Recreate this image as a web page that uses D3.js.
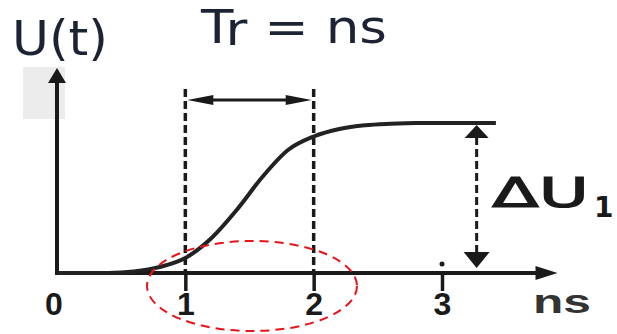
<!DOCTYPE html>
<html>
<head>
<meta charset="utf-8">
<script src="https://cdn.jsdelivr.net/npm/d3@7"></script>
<style>
  body { margin: 0; background: #fff; }
  svg { display: block; }
</style>
</head>
<body>
<svg width="617" height="334"></svg>
<script>
// rise curve, time in ns, U normalised to the plateau
const tValues = [0, 0.4, 0.6, 0.8, 1.0, 1.2, 1.4, 1.6, 1.8, 2.0, 2.2, 2.4, 2.6, 2.8, 3.0, 3.42];
const uValues = [0, 0, 0.01, 0.04, 0.10, 0.23, 0.42, 0.64, 0.82, 0.91, 0.96, 0.985, 0.995, 1, 1, 1];
const tickValues = [0, 1, 2, 3];
const riseMarks = [1, 2];      // dashed verticals for Tr
const deltaAt = 3.27;          // where the ΔU1 arrow sits
const axisEnd = 3.9;

(function () {
  'use strict';
  const svg = d3.select("svg");
  const ink = "#1a1a1a";

  const x = d3.scaleLinear().domain([0, 3]).range([57, 442]);
  const y = d3.scaleLinear().domain([0, 1]).range([273, 123]);

  // faint grey patch behind the top of the y axis
  svg.append("rect").attr("x", 23).attr("y", 67).attr("width", 42).attr("height", 52)
    .attr("fill", "#ececec");

  // axes
  svg.append("line").attr("x1", x(0)).attr("x2", x(axisEnd) - 10)
    .attr("y1", y(0)).attr("y2", y(0)).attr("stroke", ink).attr("stroke-width", 4);
  svg.append("line").attr("x1", x(0)).attr("x2", x(0))
    .attr("y1", y(0) + 2).attr("y2", 78).attr("stroke", ink).attr("stroke-width", 4);
  svg.append("path").attr("fill", ink)
    .attr("d", `M${x(axisEnd)},${y(0)} L${x(axisEnd) - 22},${y(0) - 7} L${x(axisEnd) - 22},${y(0) + 7}Z`);
  svg.append("path").attr("fill", ink)
    .attr("d", `M${x(0)},68 L${x(0) - 9},83 L${x(0) + 9},83Z`);

  // ticks + labels
  const ax = svg.append("g").attr("transform", `translate(0,${y(0)})`)
    .call(d3.axisBottom(x).tickValues(tickValues).tickSize(18).tickPadding(1).tickFormat(d3.format("d")));
  ax.select(".domain").remove();
  ax.selectAll(".tick line").attr("stroke", ink).attr("stroke-width", 3.5)
    .attr("opacity", d => d === 0 ? 0 : 1);
  ax.selectAll(".tick text").attr("fill", ink)
    .style("font-family", "'Liberation Sans', Arial, sans-serif")
    .style("font-weight", "bold").style("font-size", "32px");
  ax.selectAll(".tick").filter(d => d === 0).attr("transform", `translate(${x(0) - 3},0)`);

  svg.append("circle").attr("cx", x(3)).attr("cy", y(0) - 9).attr("r", 2.5).attr("fill", ink);

  svg.append("text").attr("x", 533).attr("y", 313).text("ns")
    .attr("textLength", 58).attr("lengthAdjust", "spacingAndGlyphs")
    .attr("fill", "#333").style("font-family", "'Liberation Sans', Arial, sans-serif")
    .style("font-weight", "bold").style("font-size", "34px");

  // dashed Tr markers
  svg.selectAll(".rise").data(riseMarks).enter().append("line")
    .attr("x1", d => x(d)).attr("x2", d => x(d))
    .attr("y1", 89).attr("y2", y(0))
    .attr("stroke", ink).attr("stroke-width", 3.5).attr("stroke-dasharray", "8,4");

  // Tr double arrow
  const ay = 100, l = x(riseMarks[0]) + 2, r = x(riseMarks[1]) - 2;
  svg.append("line").attr("x1", l + 10).attr("x2", r - 10).attr("y1", ay).attr("y2", ay)
    .attr("stroke", ink).attr("stroke-width", 3);
  svg.append("path").attr("fill", ink)
    .attr("d", `M${l},${ay} L${l + 26},${ay - 5} L${l + 26},${ay + 5}Z`);
  svg.append("path").attr("fill", ink)
    .attr("d", `M${r},${ay} L${r - 26},${ay - 5} L${r - 26},${ay + 5}Z`);

  // rise curve
  const line = d3.line().x(d => x(d[0])).y(d => y(d[1])).curve(d3.curveMonotoneX);
  svg.append("path").datum(d3.zip(tValues, uValues)).attr("d", line)
    .attr("fill", "none").attr("stroke", "#222").attr("stroke-width", 4);

  // ΔU1 arrow
  const dx = x(deltaAt);
  svg.append("line").attr("x1", dx).attr("x2", dx).attr("y1", y(1) + 14).attr("y2", y(0) - 18)
    .attr("stroke", ink).attr("stroke-width", 3).attr("stroke-dasharray", "8,4");
  svg.append("path").attr("fill", ink)
    .attr("d", `M${dx},${y(1) + 2} L${dx - 12},${y(1) + 15} L${dx + 12},${y(1) + 15}Z`);
  svg.append("path").attr("fill", ink)
    .attr("d", `M${dx},${y(0) - 5} L${dx - 13},${y(0) - 21} L${dx + 13},${y(0) - 21}Z`);

  svg.append("text").attr("x", 492).attr("y", 207).text("ΔU")
    .attr("textLength", 97).attr("lengthAdjust", "spacingAndGlyphs")
    .attr("fill", ink).style("font-family", "'DejaVu Sans', sans-serif")
    .style("font-size", "41px")
    .attr("stroke", ink).attr("stroke-width", 1.2);
  svg.append("text").attr("x", 594).attr("y", 217).text("1")
    .attr("fill", ink).style("font-family", "'DejaVu Sans', sans-serif")
    .style("font-weight", "bold").style("font-size", "28px");

  // titles
  svg.append("text").attr("x", 12).attr("y", 55).text("U(t)")
    .attr("textLength", 96).attr("lengthAdjust", "spacingAndGlyphs")
    .attr("fill", "#1c2333").style("font-family", "'DejaVu Sans', sans-serif").style("font-size", "48px");

  const title = svg.append("text").attr("x", 201).attr("y", 43)
    .attr("textLength", 186).attr("lengthAdjust", "spacingAndGlyphs")
    .attr("fill", "#1c2333").style("font-family", "'DejaVu Sans', sans-serif").style("font-size", "46px");
  title.append("tspan").text("T");
  title.append("tspan").attr("dy", 2).text("r");
  title.append("tspan").attr("dy", -2).text(" = ns");

  // red dashed highlight ellipse
  svg.append("ellipse").attr("cx", 252).attr("cy", 286).attr("rx", 105).attr("ry", 45)
    .attr("fill", "none").attr("stroke", "#e8141a").attr("stroke-width", 2)
    .attr("stroke-dasharray", "9,6");
}());
</script>
</body>
</html>
